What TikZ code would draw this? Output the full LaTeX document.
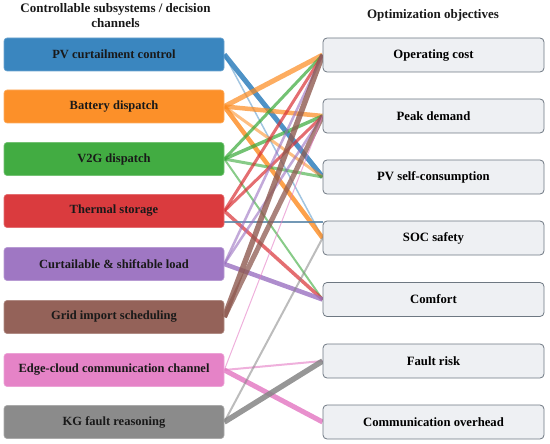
\documentclass[tikz,border=0pt]{standalone}
\usepackage{fontspec}
\setmainfont{Liberation Serif}
\pgfdeclarelayer{bg}
\pgfsetlayers{bg,main}
\definecolor{cblue}{HTML}{2F7FBC}
\definecolor{corange}{HTML}{FC8A1E}
\definecolor{cgreen}{HTML}{38A838}
\definecolor{cred}{HTML}{D83034}
\definecolor{cpurple}{HTML}{9A70C0}
\definecolor{cbrown}{HTML}{8E5A50}
\definecolor{cpink}{HTML}{E47CC4}
\definecolor{cgray}{HTML}{858585}
\definecolor{csteel}{HTML}{5A86A8}
\definecolor{objfill}{HTML}{EEF0F3}
\definecolor{objdraw}{HTML}{6E7882}
\tikzset{
  x=1pt, y=-1pt,
  subsys/.style={rounded corners=3pt, minimum width=220pt, minimum height=33pt,
    inner sep=0pt, font=\fontsize{12.5}{14}\selectfont\bfseries, text=black!90,
    fill=#1, draw=#1!70!white, line width=0.6pt, fill opacity=0.95, text opacity=1},
  objbox/.style={rounded corners=4pt, minimum width=221pt, minimum height=34pt,
    inner sep=0pt, font=\fontsize{12.7}{14}\selectfont\bfseries, text=black,
    fill=objfill, draw=objdraw, line width=0.8pt},
  hdr/.style={font=\fontsize{13}{15}\selectfont\bfseries, align=center, text=black!90},
  link/.style={draw=#1, opacity=0.7, line cap=butt},
}
\begin{document}
\begin{tikzpicture}
\useasboundingbox (0,0) rectangle (550,444);
\node[hdr] (lh) at (115.5,16) {Controllable subsystems / decision\\channels};
\node[hdr] (rh) at (433,15) {Optimization objectives};

\node[subsys=cblue]   (L1) at (114,54.5) {PV curtailment control};
\node[subsys=corange] (L2) at (114,106.5) {Battery dispatch};
\node[subsys=cgreen]  (L3) at (114,159) {V2G dispatch};
\node[subsys=cred]    (L4) at (114,211) {Thermal storage};
\node[subsys=cpurple] (L5) at (114,264) {Curtailable \& shiftable load};
\node[subsys=cbrown]  (L6) at (114,317) {Grid import scheduling};
\node[subsys=cpink]   (L7) at (114,370) {Edge-cloud communication channel};
\node[subsys=cgray]   (L8) at (114,422) {KG fault reasoning};

\node[objbox] (R1) at (433.5,55) {Operating cost};
\node[objbox] (R2) at (433.5,116) {Peak demand};
\node[objbox] (R3) at (433.5,177) {PV self-consumption};
\node[objbox] (R4) at (433.5,238) {SOC safety};
\node[objbox] (R5) at (433.5,299.5) {Comfort};
\node[objbox] (R6) at (433.5,361) {Fault risk};
\node[objbox] (R7) at (433.5,422) {Communication overhead};

\coordinate (s1) at ([yshift=-11.5pt]L4.east);
\coordinate (s2) at (R4.west |- s1);

\begin{pgfonlayer}{bg}
% PV curtailment
\draw[link=cblue, line width=5pt, opacity=0.85] (L1.east) -- (R3.west);
\draw[link=cblue, line width=1.5pt, opacity=0.45] (L1.east) -- (R4.west);
% Battery
\draw[link=corange, line width=5pt] (L2.east) -- (R1.west);
\draw[link=corange, line width=4.5pt] (L2.east) -- (R2.west);
\draw[link=corange, line width=3pt, opacity=0.55] (L2.east) -- (R3.west);
\draw[link=corange, line width=4.5pt, opacity=0.8] (L2.east) -- (R4.west);
% V2G
\draw[link=cgreen, line width=3pt] (L3.east) -- (R1.west);
\draw[link=cgreen, line width=3.5pt] (L3.east) -- (R2.west);
\draw[link=cgreen, line width=3pt, opacity=0.6] (L3.east) -- (R3.west);
\draw[link=cgreen, line width=2pt, opacity=0.6] (L3.east) -- (R5.west);
% Thermal
\draw[link=cred, line width=3pt] (L4.east) -- (R1.west);
\draw[link=cred, line width=3pt] (L4.east) -- (R2.west);
\draw[link=cred, line width=3.5pt] (L4.east) -- (R5.west);
\draw[link=csteel, line width=2pt, opacity=0.85] (s1) -- (s2);
% Curtailable
\draw[link=cpurple, line width=2.5pt, opacity=0.6] (L5.east) -- (R1.west);
\draw[link=cpurple, line width=2.5pt, opacity=0.6] (L5.east) -- (R2.west);
\draw[link=cpurple, line width=4.5pt, opacity=0.8] (L5.east) -- (R5.west);
% Grid
\draw[link=cbrown, line width=5.5pt, opacity=0.8] (L6.east) -- (R1.west);
\draw[link=cbrown, line width=5pt, opacity=0.75] (L6.east) -- (R2.west);
% Edge-cloud
\draw[link=cpink, line width=1pt, opacity=0.6] (L7.east) -- (R2.west);
\draw[link=cpink, line width=2pt, opacity=0.6] (L7.east) -- (R6.west);
\draw[link=cpink, line width=5pt, opacity=0.85] (L7.east) -- (R7.west);
% KG
\draw[link=cgray, line width=2pt, opacity=0.55] (L8.east) -- (R4.west);
\draw[link=cgray, line width=5.5pt, opacity=0.85] (L8.east) -- (R6.west);
\end{pgfonlayer}
\end{tikzpicture}
\end{document}
